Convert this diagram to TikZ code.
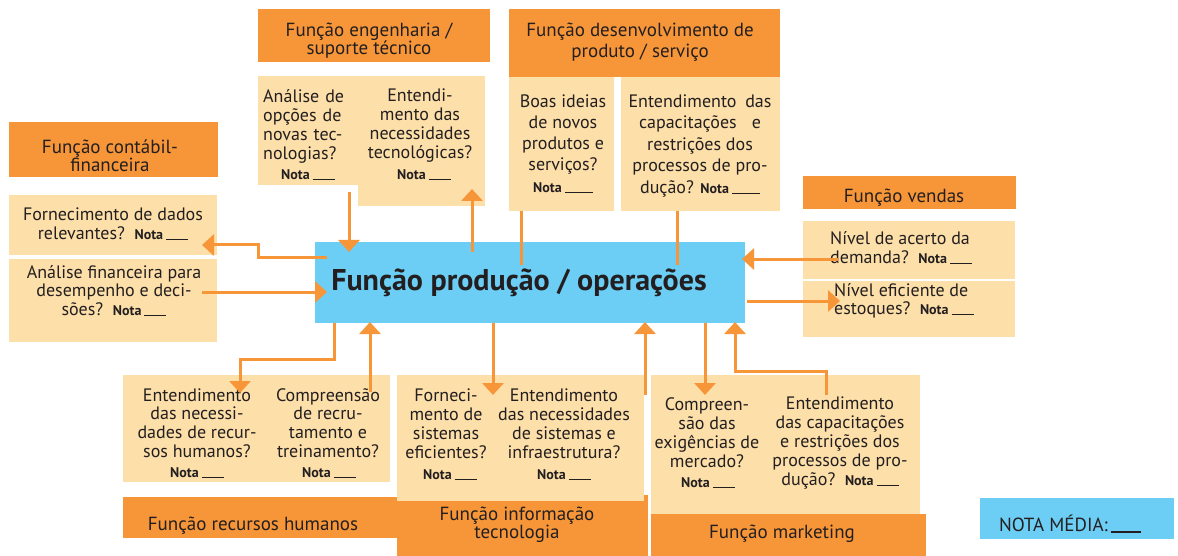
\documentclass[tikz,border=0pt]{standalone}
\usepackage{fontspec}
\setmainfont{PT Sans}
\usetikzlibrary{arrows.meta}
\definecolor{orng}{RGB}{247,150,56}
\definecolor{cream}{RGB}{253,223,169}
\definecolor{skyb}{RGB}{108,206,245}
\definecolor{ink}{RGB}{35,31,32}
\newcommand{\nota}[1][22pt]{{\fontsize{14}{15}\selectfont\bfseries Nota}\,\rule[-0.6pt]{#1}{0.9pt}}
\begin{document}
\begin{tikzpicture}[x=1pt,y=-1pt,
  bx/.style={draw=none,inner sep=0pt,outer sep=0pt,anchor=north west},
  hdr/.style={bx,fill=orng},
  crm/.style={bx,fill=cream},
  blu/.style={bx,fill=skyb},
  txt/.style={inner sep=0pt,text=ink,align=center,font=\fontsize{18}{19}\selectfont},
  htxt/.style={txt,font=\fontsize{19}{18}\selectfont},
  ln/.style={draw=orng,line width=3pt},
  arr/.style={ln,-{Triangle[width=21pt,length=12pt]}}]
\useasboundingbox (0,0) rectangle (1178,556);
% ---- boxes
\node[hdr,minimum width=232pt,minimum height=53pt] (engH) at (258,9) {};
\node[crm,minimum width=100pt,minimum height=109pt] (engL) at (258,76) {};
\node[crm,minimum width=127pt,minimum height=130pt] (engR) at (358,76) {};
\node[hdr,minimum width=271pt,minimum height=68pt] (devH) at (509,9) {};
\node[crm,minimum width=105pt,minimum height=134pt] (devL) at (509,77) {};
\node[crm,minimum width=159pt,minimum height=134pt] (devR) at (621,77) {};
\node[hdr,minimum width=209pt,minimum height=55pt] (conH) at (9,122) {};
\node[crm,minimum width=208pt,minimum height=60pt] (conA) at (9,195) {};
\node[crm,minimum width=208pt,minimum height=83pt] (conB) at (9,259) {};
\node[hdr,minimum width=213pt,minimum height=33pt] (venH) at (803,176) {};
\node[crm,minimum width=212pt,minimum height=58pt] (venA) at (803,221) {};
\node[crm,minimum width=212pt,minimum height=56pt] (venB) at (803,281) {};
\node[blu,minimum width=430pt,minimum height=81pt] (prod) at (315,242) {};
\node[crm,minimum width=267pt,minimum height=107pt] (rhB) at (123,375) {};
\node[hdr,minimum width=274pt,minimum height=41pt] (rhH) at (123,497) {};
\node[hdr,minimum width=251pt,minimum height=61pt] (tiH) at (397,495) {};
\node[crm,minimum width=247pt,minimum height=126pt] (tiB) at (397,375) {};
\node[crm,minimum width=269pt,minimum height=139pt] (mkB) at (651,375) {};
\node[hdr,minimum width=275pt,minimum height=42pt] (mkH) at (651,514) {};
\node[blu,minimum width=194pt,minimum height=41pt] (nm) at (980,498) {};
% ---- texts
\node[htxt] (tEngH) at (369,41) {Função engenharia /\\suporte técnico};
\node[txt,align=left,text width=92pt,anchor=west] (tEngL) at (263,126.5) {\makebox[92pt][s]{Análise de}\\\makebox[92pt][s]{opções de}\\\makebox[92pt][s]{novas tec-}\\nologias?};
\node[txt] (nEngL) at (308,175) {\nota};
\node[txt] (tEngR) at (420,126) {Entendi-\\mento das\\necessidades\\tecnológicas?};
\node[txt] (nEngR) at (424,175) {\nota};
\node[htxt,font=\fontsize{19}{21}\selectfont] (tDevH) at (640,42.5) {Função desenvolvimento de\\produto / serviço};
\node[txt,font=\fontsize{18}{21}\selectfont] (tDevL) at (563,135) {Boas ideias\\de novos\\produtos e\\serviços?};
\node[txt] (nDevL) at (563,188) {\nota[28pt]};
\node[txt,font=\fontsize{18}{21.5}\selectfont] (tDevR) at (700,146) {\makebox[143pt][s]{Entendimento das}\\\makebox[122pt][s]{capacitações e}\\restrições dos\\processos de pro-\\dução? \nota[28pt]};
\node[htxt] (tConH) at (110,156) {Função contábil-\\financeira};
\node[txt] (tConA) at (113,223.5) {Fornecimento de dados\\relevantes?\ \ \nota};
\node[txt,font=\fontsize{18}{18.5}\selectfont] (tConB) at (114,290.5) {Análise financeira para\\desempenho e deci-\\sões?\ \ \nota};
\node[txt,font=\fontsize{30}{30}\selectfont\bfseries] (tProd) at (519,283) {Função produção / operações};
\node[htxt] (tVenH) at (904,198) {Função vendas};
\node[txt,align=left,anchor=west] (tVenA) at (830,247.5) {Nível de acerto da\\demanda?\ \ \nota};
\node[txt,align=left,anchor=west,font=\fontsize{18}{18}\selectfont] (tVenB) at (834,301) {Nível eficiente de\\estoques?\ \ \nota};
\node[txt,font=\fontsize{18}{18.7}\selectfont] (tRhL) at (197,423) {Entendimento\\das necessi-\\dades de recur-\\sos humanos?};
\node[txt] (nRhL) at (197,473) {\nota};
\node[txt,font=\fontsize{18}{18.7}\selectfont] (tRhR) at (328,423) {Compreensão\\de recru-\\tamento e\\treinamento?};
\node[txt] (nRhR) at (329,473) {\nota};
\node[htxt] (tRhH) at (253,526) {Função recursos humanos};
\node[txt] (tTiL) at (446,424) {Forneci-\\mento de\\sistemas\\eficientes?};
\node[txt] (nTiL) at (450,475) {\nota};
\node[txt] (tTiR) at (564,424) {Entendimento\\das necessidades\\de sistemas e\\infraestrutura?};
\node[txt] (nTiR) at (564,475) {\nota};
\node[htxt] (tTiH) at (517,525) {Função informação\\tecnologia};
\node[txt] (tMkL) at (707,433) {Compreen-\\são das\\exigências de\\mercado?};
\node[txt] (nMkL) at (708,483) {\nota};
\node[txt] (tMkR) at (840,443) {Entendimento\\das capacitações\\e restrições dos\\processos de pro-\\dução?\ \ \nota};
\node[htxt] (tMkH) at (782,534) {Função marketing};
\node[htxt] (tNm) at (1070,524) {NOTA MÉDIA:\,\rule[-1pt]{30pt}{2pt}};
% ---- connector points
\coordinate (a1) at (349,192); \coordinate (a1e) at (349,252);
\coordinate (a2) at (472,252); \coordinate (a2e) at (472,189);
\coordinate (a3) at (521,211); \coordinate (a3e) at (521,265);
\coordinate (a4) at (677,211); \coordinate (a4e) at (677,265);
\coordinate (a5) at (327,257); \coordinate (a5m) at (258,257); \coordinate (a5n) at (258,245); \coordinate (a5e) at (202,245);
\coordinate (a6) at (202,292); \coordinate (a6e) at (327,292);
\coordinate (a7) at (838,259); \coordinate (a7e) at (742,259);
\coordinate (a8) at (747,301); \coordinate (a8e) at (840,301);
\coordinate (a9) at (334,323); \coordinate (a9m) at (334,359); \coordinate (a9n) at (240,359); \coordinate (a9e) at (240,393);
\coordinate (a10) at (370,392); \coordinate (a10e) at (370,322);
\coordinate (a11) at (493,323); \coordinate (a11e) at (493,395);
\coordinate (a12) at (645,395); \coordinate (a12e) at (645,322);
\coordinate (a13) at (705,323); \coordinate (a13e) at (705,395);
\coordinate (a14) at (826,395); \coordinate (a14m) at (826,371); \coordinate (a14n) at (735,371); \coordinate (a14e) at (735,322);
% ---- connectors
\draw[arr] (a1) -- (a1e);
\draw[arr] (a2) -- (a2e);
\draw[ln] (a3) -- (a3e);
\draw[ln] (a4) -- (a4e);
\draw[arr] (a5) -- (a5m) -- (a5n) -- (a5e);
\draw[arr] (a6) -- (a6e);
\draw[arr] (a7) -- (a7e);
\draw[arr] (a8) -- (a8e);
\draw[arr] (a9) -- (a9m) -- (a9n) -- (a9e);
\draw[arr] (a10) -- (a10e);
\draw[arr] (a11) -- (a11e);
\draw[arr] (a12) -- (a12e);
\draw[arr] (a13) -- (a13e);
\draw[arr] (a14) -- (a14m) -- (a14n) -- (a14e);
\end{tikzpicture}
\end{document}
